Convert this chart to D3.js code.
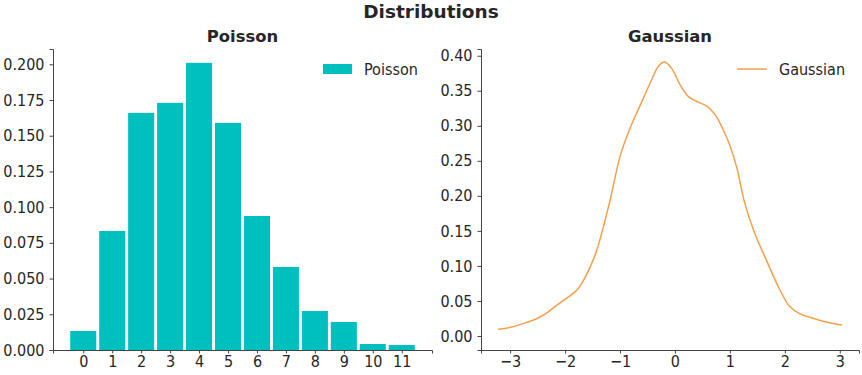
<!DOCTYPE html>
<html>
<head>
<meta charset="utf-8">
<script src="https://cdn.jsdelivr.net/npm/d3@7"></script>
<style>
  body { margin: 0; background: #fff; }
  svg text { font-family: "DejaVu Sans", sans-serif; fill: #262626; }
  .axis path, .axis line { stroke: #444; }
  .axis text, .legend { font-family: "DejaVu Sans Condensed", "DejaVu Sans", sans-serif; font-stretch: condensed; font-size: 16px; fill: #262626; }
</style>
</head>
<body>
<script>
(function (d3) {
  'use strict';

  // Poisson bar data
  const poissonK = [0, 1, 2, 3, 4, 5, 6, 7, 8, 9, 10, 11];
  const poissonP = [0.0133, 0.0833, 0.166, 0.173, 0.201, 0.159, 0.0938, 0.0581, 0.0273, 0.0196, 0.0042, 0.0035];
  const poissonYTicks = [0, 0.025, 0.05, 0.075, 0.1, 0.125, 0.15, 0.175, 0.2];

  // Gaussian density curve
  const gaussX = [-3.22, -2.99, -2.75, -2.51, -2.33, -2.15, -1.97, -1.78, -1.66, -1.54, -1.42, -1.18, -1.0, -0.82, -0.64, -0.45, -0.30, -0.19, -0.06, 0.09, 0.24, 0.39, 0.58, 0.73, 0.88, 1.0, 1.12, 1.27, 1.45, 1.66, 1.91, 2.09, 2.27, 2.57, 2.81, 3.04];
  const gaussY = [0.0096, 0.0124, 0.018, 0.025, 0.033, 0.044, 0.054, 0.066, 0.080, 0.099, 0.123, 0.194, 0.256, 0.296, 0.328, 0.361, 0.385, 0.391, 0.382, 0.359, 0.342, 0.335, 0.328, 0.316, 0.294, 0.272, 0.242, 0.190, 0.147, 0.109, 0.066, 0.042, 0.032, 0.024, 0.019, 0.0157];
  const gaussXTicks = [-3, -2, -1, 0, 1, 2, 3];
  const gaussYTicks = [0, 0.05, 0.1, 0.15, 0.2, 0.25, 0.3, 0.35, 0.4];

  const W = 862, H = 375;
  const barColor = "#00bfbf", lineColor = "#f4a04a";

  const svg = d3.select("body").append("svg")
    .attr("width", W).attr("height", H);

  svg.append("text")
    .attr("x", 431).attr("y", 18)
    .attr("text-anchor", "middle")
    .style("font-size", "18.5px").style("font-weight", "bold")
    .text("Distributions");

  // ---- left: Poisson ----
  const L = {left: 53, right: 432, top: 49, bottom: 350};
  const x1 = d3.scaleLinear().domain([-1.045, 12.045]).range([L.left, L.right]);
  const y1 = d3.scaleLinear().domain([0, 0.2107]).range([L.bottom, L.top]);

  svg.append("g").attr("class", "axis")
    .attr("transform", `translate(0,${L.bottom})`)
    .call(d3.axisBottom(x1).tickValues(poissonK).tickFormat(d3.format("d")).tickSizeOuter(0).tickSize(3.5).tickPadding(2.5));
  svg.append("g").attr("class", "axis")
    .attr("transform", `translate(${L.left},0)`)
    .call(d3.axisLeft(y1).tickValues(poissonYTicks).tickFormat(d3.format(".3f")).tickSizeOuter(0).tickSize(3.5).tickPadding(5));

  svg.append("g").selectAll("rect")
    .data(poissonK)
    .join("rect")
      .attr("x", (d) => x1(d - 0.45))
      .attr("width", x1(0.9) - x1(0))
      .attr("y", (d, i) => y1(poissonP[i]))
      .attr("height", (d, i) => y1(0) - y1(poissonP[i]))
      .attr("fill", barColor);

  svg.append("text")
    .attr("x", (L.left + L.right) / 2).attr("y", 42)
    .attr("text-anchor", "middle")
    .style("font-size", "16.4px").style("font-weight", "bold")
    .text("Poisson");

  svg.append("rect").attr("x", 323).attr("y", 64).attr("width", 29).attr("height", 10).attr("fill", barColor);
  svg.append("text").attr("class", "legend").attr("x", 364).attr("y", 75).text("Poisson");

  // ---- right: Gaussian ----
  const R = {left: 481, right: 859, top: 49, bottom: 350};
  const x2 = d3.scaleLinear().domain([-3.53, 3.35]).range([R.left, R.right]);
  const y2 = d3.scaleLinear().domain([-0.02, 0.4096]).range([R.bottom, R.top]);

  svg.append("g").attr("class", "axis")
    .attr("transform", `translate(0,${R.bottom})`)
    .call(d3.axisBottom(x2).tickValues(gaussXTicks).tickFormat((d) => d < 0 ? "\u2212" + Math.abs(d) : d).tickSizeOuter(0).tickSize(3.5).tickPadding(2.5));
  svg.append("g").attr("class", "axis")
    .attr("transform", `translate(${R.left},0)`)
    .call(d3.axisLeft(y2).tickValues(gaussYTicks).tickFormat(d3.format(".2f")).tickSizeOuter(0).tickSize(3.5).tickPadding(5));

  const line = d3.line()
    .x((d, i) => x2(gaussX[i]))
    .y((d) => y2(d))
    .curve(d3.curveCatmullRom);

  svg.append("path")
    .datum(gaussY)
    .attr("d", line)
    .attr("fill", "none")
    .attr("stroke", lineColor)
    .attr("stroke-width", 1.5);

  svg.append("text")
    .attr("x", (R.left + R.right) / 2).attr("y", 42)
    .attr("text-anchor", "middle")
    .style("font-size", "16.4px").style("font-weight", "bold")
    .text("Gaussian");

  svg.append("line").attr("x1", 737).attr("x2", 767).attr("y1", 69).attr("y2", 69)
    .attr("stroke", lineColor).attr("stroke-width", 1.5);
  svg.append("text").attr("class", "legend").attr("x", 779).attr("y", 75).text("Gaussian");
}(d3));
</script>
</body>
</html>
